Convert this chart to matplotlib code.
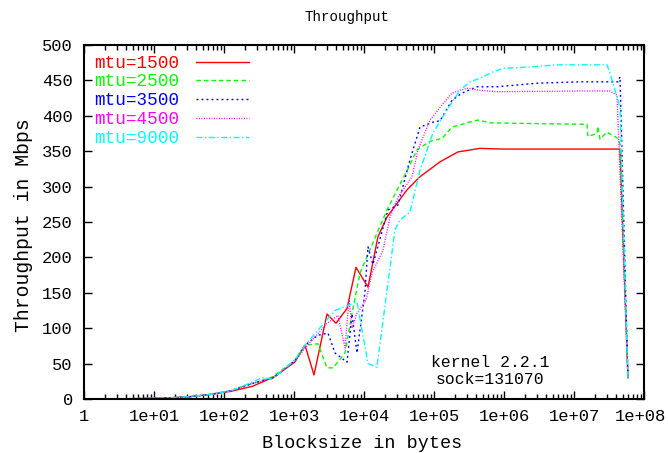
import numpy as np
import matplotlib.pyplot as plt
import matplotlib.transforms as mtransforms
from matplotlib.ticker import LogLocator, NullFormatter

plt.rcParams['font.family'] = ['Liberation Mono', 'DejaVu Sans Mono']
fs = 11.8

# blocksize (bytes) and throughput (Mbps) per mtu
red_x = [1, 2, 4, 8, 16, 32, 64, 128, 256, 512, 1024, 1436, 1930, 2960, 3980, 5720, 7690, 11400,
         15800, 21300, 40800, 63100, 122000, 220000, 454000, 968000, 4.1e6, 4.54e7, 5.9e7]
red_y = [0.1, 0.2, 0.4, 0.8, 1.6, 3.2, 6.5, 11, 18, 31, 52, 76, 34, 120, 107, 128, 186, 158,
         229, 257, 295, 314, 335, 349, 354, 353, 353, 353, 30]

green_x = [1, 2, 4, 8, 16, 32, 64, 128, 256, 485, 1024, 1436, 2200, 2960, 3610, 5350, 6740, 8770,
           15300, 21300, 29600, 41100, 57100, 87700, 130000, 181000, 296000, 425000, 631000,
           2.96e6, 1.53e7, 1.58e7, 2.13e7, 2.2e7, 2.35e7, 2.96e7, 4.25e7, 4.54e7, 5.9e7]
green_y = [0.1, 0.2, 0.4, 0.8, 1.6, 3.2, 6.5, 12, 22, 31, 54, 76, 78, 44, 44, 65, 121, 178,
           234, 267, 295, 322, 352, 364, 368, 384, 390, 394, 390,
           389, 388, 371, 375, 385, 367, 377, 368, 360, 30]

blue_x = [1, 2, 4, 8, 16, 32, 64, 128, 256, 512, 1024, 1436, 2200, 3060, 3850, 5720, 6740, 7940,
          10300, 11400, 13400, 22000, 30600, 45400, 63100, 96800, 122000, 181000, 251000,
          411000, 795000, 2.96e6, 1.22e7, 4.25e7, 4.54e7, 5.9e7]
blue_y = [0.1, 0.2, 0.4, 0.8, 1.6, 3.2, 6.5, 12, 22, 30, 54, 76, 90, 93, 65, 52, 120, 65,
          150, 215, 190, 267, 274, 338, 384, 391, 393, 422, 432,
          441, 441, 446, 448, 448, 455, 30]

magenta_x = [1, 2, 4, 8, 16, 32, 64, 128, 256, 512, 1024, 1436, 2960, 4250, 5350, 6110, 6740, 7940,
             10700, 13000, 18700, 23500, 30600, 48500, 59100, 87700, 122000, 181000, 296000,
             454000, 795000, 1.22e7, 3.27e7, 4.11e7, 5.9e7]
magenta_y = [0.1, 0.2, 0.4, 0.8, 1.6, 3.2, 6.5, 12, 22, 30, 53, 72, 107, 118, 72, 140, 100, 121,
             140, 178, 210, 257, 285, 314, 352, 394, 412, 432, 439,
             436, 434, 435, 435, 429, 30]

cyan_x = [1, 2, 4, 8, 16, 32, 64, 128, 256, 350, 485, 1024, 1436, 3850, 7940, 11400, 15300, 27700,
          32700, 45400, 63100, 96800, 153000, 235000, 327000, 454000, 697000, 968000, 2.35e6,
          5.71e6, 2.96e7, 3.27e7, 4.54e7, 5.9e7]
cyan_y = [0.1, 0.2, 0.4, 0.8, 1.6, 3.2, 6.5, 12, 24, 30, 28, 55, 76, 125, 137, 50, 45, 239,
          253, 264, 323, 376, 408, 436, 448, 453, 462, 467, 469,
          472, 472, 460, 412, 30]

labels = ['mtu=1500', 'mtu=2500', 'mtu=3500', 'mtu=4500', 'mtu=9000']
colors = ['#ff0000', '#00ff00', '#0000ff', '#ff00ff', '#00ffff']
dashes = [(None), (3.2, 2.2), (1.4, 2.2), (0.7, 1.1), (4.3, 1.8, 1.0, 1.8)]
xticklabels = ['1', '1e+01', '1e+02', '1e+03', '1e+04', '1e+05', '1e+06', '1e+07', '1e+08']

fig = plt.figure(figsize=(6.68, 4.53), dpi=100)
ax = fig.add_axes([84/668, 1-399/453, 560/668, 354/453])

series = [(red_x, red_y), (green_x, green_y), (blue_x, blue_y), (magenta_x, magenta_y), (cyan_x, cyan_y)]
for (xs, ys), lab, col, d in zip(series, labels, colors, dashes):
    line, = ax.plot(xs, ys, color=col, lw=1.0, label=lab)
    if d is not None:
        line.set_dashes(d)

ax.set_xscale('log')
ax.set_xlim(1, 1e8)
ax.set_ylim(0, 500)
ax.set_xticks([10**i for i in range(9)])
ax.set_xticklabels(xticklabels)
ax.xaxis.set_minor_locator(LogLocator(base=10, subs=np.arange(2, 10), numticks=20))
ax.xaxis.set_minor_formatter(NullFormatter())
ax.set_yticks(np.arange(0, 501, 50))
ax.tick_params(which='both', direction='in', top=True, right=True, labelsize=12.3, width=1.0)
ax.tick_params(which='major', length=6)
ax.tick_params(which='minor', length=3.5)
ax.tick_params(axis='x', pad=7)
ax.tick_params(axis='y', pad=8)
for s in ax.spines.values():
    s.set_linewidth(1.5)

# nudge the last x label so it stays inside the picture
last = ax.get_xticklabels()[-1]
last.set_transform(last.get_transform() + mtransforms.ScaledTranslation(-4/100, 0, fig.dpi_scale_trans))

leg = ax.legend(loc='upper left', frameon=False, markerfirst=False, labelcolor='linecolor',
                fontsize=12.7, handlelength=3.0, handletextpad=1.0, labelspacing=0.1,
                borderaxespad=0.3, borderpad=0.25)

ax.text(0.725, 0.102, 'kernel 2.2.1', transform=ax.transAxes, ha='center', va='center', fontsize=fs)
ax.text(0.725, 0.054, 'sock=131070', transform=ax.transAxes, ha='center', va='center', fontsize=fs)

fig.text(347/668, 1-17/453, 'Throughput', ha='center', va='center', fontsize=10.2)
fig.text(362/668, 1-444/453, 'Blocksize in bytes', ha='center', va='center', fontsize=13.3)
fig.text(24/668, 1-225/453, 'Throughput in Mbps', ha='center', va='center', rotation=90, fontsize=14.2)

fig.savefig('out.png', dpi=100)
